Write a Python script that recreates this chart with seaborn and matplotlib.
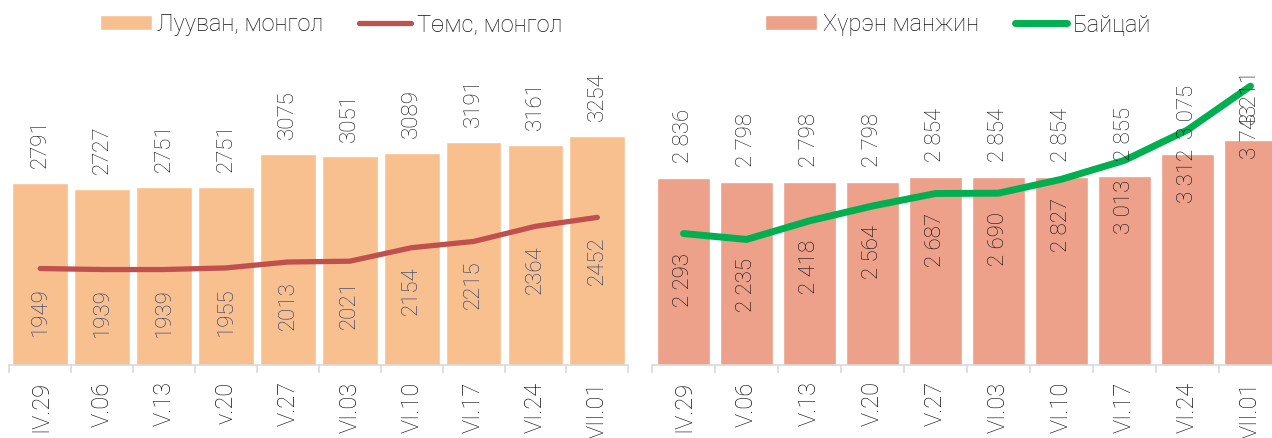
import pandas as pd
import numpy as np
import matplotlib
matplotlib.use("Agg")
import matplotlib.pyplot as plt
import seaborn as sns

# data
dates = ['IV.29', 'V.06', 'V.13', 'v.20', 'V.27', 'VI.03', 'VI.10', 'VI.17', 'VI.24', 'VII.01']
dates_r = ['IV.29', 'V.06', 'V.13', 'V.20', 'V.27', 'VI.03', 'VI.10', 'VI.17', 'VI.24', 'VII.01']
carrot = [2791, 2727, 2751, 2751, 3075, 3051, 3089, 3191, 3161, 3254]
potato = [1949, 1939, 1939, 1955, 2013, 2021, 2154, 2215, 2364, 2452]
beet = [2836, 2798, 2798, 2798, 2854, 2854, 2854, 2855, 3075, 3211]
cabbage = [2293, 2235, 2418, 2564, 2687, 2690, 2827, 3013, 3312, 3743]

sns.set_theme(style="white")
plt.rcParams['font.family'] = ['Roboto', 'DejaVu Sans']
plt.rcParams['font.weight'] = 'light'

fig = plt.figure(figsize=(12.72, 4.39), dpi=100)
W, H = 1272, 439
ax1 = fig.add_axes([9.3 / W, 73 / H, 619 / W, 305 / H])
ax2 = fig.add_axes([652 / W, 73 / H, 630 / W, 305 / H])


def draw(ax, cats, bars, line, bar_col, line_col, lw, width, lab_col, fmt, names, leg_x):
    df = pd.DataFrame({'d': cats, 'bar': bars, 'line': line})
    sns.barplot(data=df, x='d', y='bar', color=bar_col, saturation=1, width=width,
                ax=ax, label=names[0])
    sns.pointplot(data=df, x='d', y='line', color=line_col, markers='', errorbar=None,
                  linewidth=lw, ax=ax, label=names[1])
    ax.lines[-1].set_solid_capstyle('round')
    ax.set_ylim(1000, 4000)
    ax.set_xlim(-0.5, len(cats) - 0.5)
    ax.bar_label(ax.containers[0], labels=[fmt(v) for v in bars], rotation=90,
                 padding=11.5, fontsize=16, color='#111111', fontweight='light')
    for i, v in enumerate(line):
        ax.annotate(fmt(v), (i, v), xytext=(0, -13), textcoords='offset points',
                    rotation=90, ha='center', va='top', fontsize=16, color=lab_col,
                    fontweight='light', annotation_clip=False)
    for s in ['left', 'right', 'top']:
        ax.spines[s].set_visible(False)
    ax.spines['bottom'].set_color('#D9D9D9')
    ax.spines['bottom'].set_linewidth(1.2)
    ax.set_yticks([])
    ax.set_xlabel('')
    ax.set_ylabel('')
    ax.set_xticks(range(len(cats)))
    ax.set_xticklabels(cats, rotation=90, fontsize=17, color='#111111', fontweight='light')
    ax.tick_params(axis='x', which='major', length=0, pad=11)
    ax.set_xticks(np.arange(-0.5, len(cats)), minor=True)
    ax.tick_params(axis='x', which='minor', length=6, width=1.2, color='#D9D9D9', bottom=True)
    h = [ax.containers[0], ax.lines[-1]]
    leg = ax.legend(h, names, loc='center', bbox_to_anchor=(leg_x, 1 - 25 / H),
                    bbox_transform=fig.transFigure, ncol=2, frameon=False, fontsize=17,
                    handlelength=2.2, handleheight=0.6, handletextpad=0.25,
                    columnspacing=1.5)
    for t in leg.get_texts():
        t.set_color('#111111')
        t.set_fontweight('light')


draw(ax1, dates, carrot, potato, '#F9C08F', '#C0504D', 3.8, 0.9, '#1F3670',
     lambda v: f"{v}", ['Лууван, монгол', 'Төмс, монгол'], 331 / W)
draw(ax2, dates_r, beet, cabbage, '#EDA08A', '#00B050', 5.0, 0.83, '#111111',
     lambda v: f"{v:,}".replace(',', ' '), ['Хүрэн манжин', 'Байцай'], 958 / W)

fig.savefig('out.png', dpi=100)
